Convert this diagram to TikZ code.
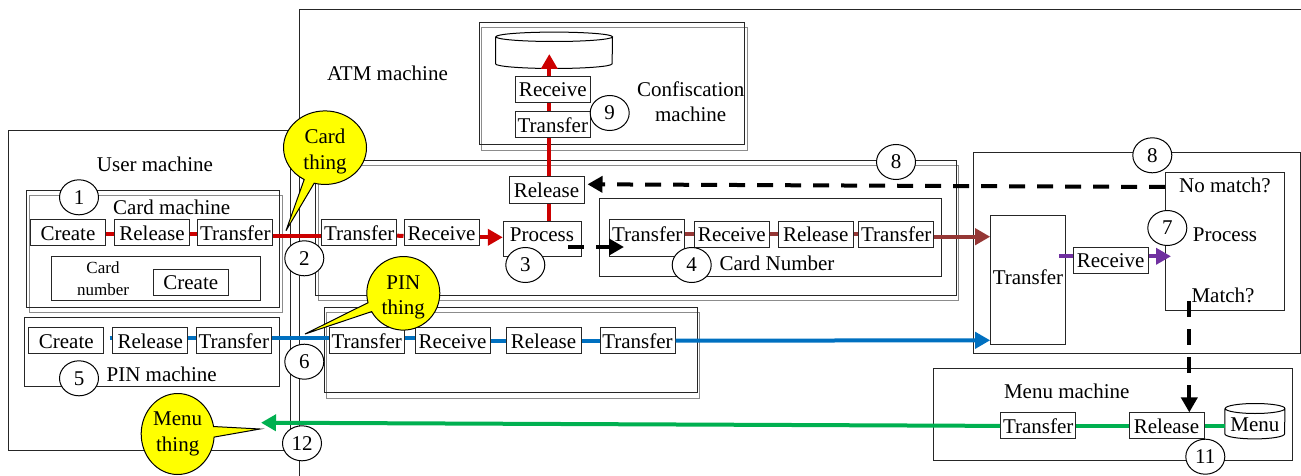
\documentclass[tikz,border=0pt]{standalone}
\usepackage{fontspec}
\setmainfont{Liberation Serif}
\usetikzlibrary{arrows.meta,shapes.geometric,shapes.callouts}
\definecolor{redflow}{RGB}{204,0,0}
\definecolor{brownflow}{RGB}{149,55,53}
\definecolor{blueflow}{RGB}{0,112,192}
\definecolor{purpleflow}{RGB}{112,48,160}
\definecolor{greenflow}{RGB}{0,176,80}
\definecolor{thingyellow}{RGB}{255,255,0}
\tikzset{
  frame/.style={draw=black!85, line width=1pt, rectangle, inner sep=0pt},
  ghost/.style={draw=black!45, line width=1pt, rectangle, inner sep=0pt},
  stepbox/.style={draw=black!85, line width=1pt, fill=white, rectangle, inner sep=0pt, minimum width=75pt, minimum height=26pt, text height=18pt, text depth=3.4pt},
  storearea/.style={rectangle, inner sep=0pt},
  storeline/.style={draw=black, line width=1pt},
  badge/.style={draw=black, line width=1pt, fill=white, ellipse, inner sep=0pt, minimum width=39pt, minimum height=35pt},
  bubble/.style={draw=black, line width=1pt, fill=thingyellow, ellipse callout, align=center, inner sep=0pt, font=\fontsize{21}{25.5}\selectfont},
  flow/.style={line width=4pt},
  bigarrow/.style={-{Triangle[length=15pt,width=16pt]}},
  dashflow/.style={line width=4pt, black, dash pattern=on 16pt off 12pt}
}
\newcommand{\storeshape}[3]{%
  \draw[storeline] (#1.north west) -- (#1.south west)
    arc[start angle=180, end angle=360, x radius=#2pt, y radius=#3pt] -- (#1.north east)
    arc[start angle=0, end angle=360, x radius=#2pt, y radius=#3pt];
}
\begin{document}
\begin{tikzpicture}[x=1pt, y=-1pt, every node/.append style={font=\fontsize{21}{25}\selectfont}]
  \useasboundingbox (0,0) rectangle (1301,476);

  % machines
  \node (usermachine) [frame, minimum width=282pt, minimum height=319pt] at (149,290.5) {};
  \coordinate (atmright) at (1301,10);
  \coordinate (atmcorner) at (299.7,10);
  \coordinate (atmbottom) at (299.7,476);
  \draw[black!85, line width=1pt] (atmright) -- (atmcorner) -- (atmbottom);

  \node [ghost, minimum width=252.7pt, minimum height=116.3pt] at (155.65,253.85) {};
  \node (cardmachine) [frame, minimum width=253pt, minimum height=117.7pt] at (153.2,248.85) {};
  \node (cardnumber) [frame, minimum width=209pt, minimum height=43.6pt] at (155.8,278.5) {};
  \node (pinmachine) [frame, minimum width=255pt, minimum height=69.4pt] at (152.2,352) {};

  \node [ghost, minimum width=640.4pt, minimum height=135pt] at (638.5,233.2) {};
  \node (cardgroup) [frame, minimum width=640.3pt, minimum height=134.3pt] at (635.85,227.85) {};
  \node [ghost, minimum width=373pt, minimum height=85.7pt] at (513.2,355.15) {};
  \node (pingroup) [frame, minimum width=373pt, minimum height=85.4pt] at (510.5,350) {};
  \node (numbergroup) [frame, minimum width=341.7pt, minimum height=77.7pt] at (770.8,237.2) {};

  \node [ghost, minimum width=266pt, minimum height=122.3pt] at (614.3,89.15) {};
  \node (confmachine) [frame, minimum width=265.7pt, minimum height=122.3pt] at (611.85,83.85) {};
  \node (bankmachine) [frame, minimum width=327pt, minimum height=201.4pt] at (1136.9,253) {};
  \node (menumachine) [frame, minimum width=359pt, minimum height=92.3pt] at (1112.8,414.2) {};

  % machine names
  \node (usertext) at (155,164) {User machine};
  \node (cardtext) at (171.7,207.2) {Card machine};
  \node (pintext) at (161.7,374.5) {PIN machine};
  \node (atmtext) at (387.5,73) {ATM machine};
  \node (conftext) [align=center] at (690.7,102) {Confiscation\\machine};
  \node (numbertext) at (777,263.5) {Card Number};
  \node (menutext) at (1066.7,391.5) {Menu machine};
  \node (cardnumtext) [align=center, font=\fontsize{17}{21.5}\selectfont] at (103,278.5) {Card\\number};

  % user side
  \node (cardcreate) [stepbox] at (68,232.7) {Create};
  \node (cardrelease) [stepbox] at (152,232.7) {Release};
  \node (cardtransfer) [stepbox] at (235.3,232.7) {Transfer};
  \node (numcreate) [stepbox] at (190.8,282.3) {Create};
  \node (pincreate) [stepbox] at (66.3,340.7) {Create};
  \node (pinrelease) [stepbox] at (150.2,340.7) {Release};
  \node (pintransfer) [stepbox] at (233.8,340.7) {Transfer};

  % ATM side
  \node (atmtransfer) [stepbox] at (359.2,232.7) {Transfer};
  \node (atmreceive) [stepbox] at (441.5,232.9) {Receive};
  \node (atmprocess) [stepbox, minimum width=78pt, minimum height=35.4pt, text height=0pt, text depth=0pt] at (542.3,239) {};
  \node (processtext) at (542,235) {Process};
  \node (atmrelease) [stepbox, minimum height=26.6pt] at (546.5,190) {Release};
  \node (numtransfer) [stepbox, minimum height=36.7pt, text height=0pt, text depth=0pt] at (647.2,238.3) {};
  \node (numtransfertext) at (647.2,234) {Transfer};
  \node (numreceive) [stepbox] at (731.8,234) {Receive};
  \node (numrelease) [stepbox] at (815.7,234) {Release};
  \node (numsend) [stepbox] at (896.2,234) {Transfer};
  \node (atmpintransfer) [stepbox] at (366.7,340.7) {Transfer};
  \node (atmpinreceive) [stepbox] at (452.5,340.7) {Receive};
  \node (atmpinrelease) [stepbox] at (543.5,340.7) {Release};
  \node (atmpinsend) [stepbox] at (637.5,340.7) {Transfer};

  % confiscation
  \node (confstore) [storearea, minimum width=116.6pt, minimum height=26.6pt] at (554,50.3) {};
  \storeshape{confstore}{58.3}{4.7}
  \node (confreceive) [stepbox] at (552.8,89.2) {Receive};
  \node (conftransfer) [stepbox] at (552.8,124.7) {Transfer};

  % bank side
  \node (banktransfer) [stepbox, minimum width=74.6pt, minimum height=129pt, text height=14pt, text depth=5pt] at (1028,279.8) {Transfer};
  \node (bankreceive) [stepbox] at (1110.7,260.2) {Receive};
  \node (bankprocess) [stepbox, minimum width=119pt, minimum height=137.7pt, text height=0pt, text depth=0pt] at (1225.2,241.2) {};
  \node (nomatchtext) at (1225,185) {No match?};
  \node (processtwotext) at (1225,235) {Process};
  \node (matchtext) at (1223,295.7) {Match?};

  % menu
  \node (menutransfer) [stepbox] at (1038.2,425.9) {Transfer};
  \node (menurelease) [stepbox] at (1166.5,425.9) {Release};
  \node (menustore) [storearea, minimum width=59.7pt, minimum height=25pt] at (1254.9,421.2) {};
  \storeshape{menustore}{29.85}{5}
  \node (menustoretext) at (1254.9,425) {Menu};

  % free ends
  \coordinate (pinstub) at (109.5,337.7);
  \coordinate (storetip) at (549.3,54);
  \coordinate (purplestart) at (1059,256.3);
  \coordinate (purpletip) at (1171,256.3);
  \coordinate (dashstart) at (568,247);
  \coordinate (dashtip) at (624,247);
  \coordinate (matchstart) at (1189.3,301);
  \coordinate (menutip) at (261,422.7);

  % card flow
  \draw[flow, redflow] ([yshift=-1.3pt]cardcreate.east) -- ([yshift=-1.3pt]cardrelease.west);
  \draw[flow, redflow] ([yshift=-1.3pt]cardrelease.east) -- ([yshift=-1.3pt]cardtransfer.west);
  \draw[flow, redflow] ([yshift=-3pt]cardtransfer.east) -- ([yshift=-3pt]atmtransfer.west);
  \draw[flow, redflow] ([yshift=-3pt]atmtransfer.east) -- ([yshift=-3pt]atmreceive.west);
  \draw[flow, redflow, bigarrow] ([yshift=-4.4pt]atmreceive.east) -- ([yshift=-4.4pt]atmreceive.east -| atmprocess.west);
  \draw[flow, redflow] (atmprocess.north -| storetip) -- (atmrelease.south -| storetip);
  \draw[flow, redflow] (atmrelease.north -| storetip) -- (conftransfer.south -| storetip);
  \draw[flow, redflow] (conftransfer.north -| storetip) -- (confreceive.south -| storetip);
  \draw[flow, redflow, bigarrow] (confreceive.north -| storetip) -- (storetip);

  % number flow
  \draw[flow, brownflow] (numtransfer.east |- numreceive.west) -- (numreceive.west);
  \draw[flow, brownflow] (numreceive.east) -- (numrelease.west);
  \draw[flow, brownflow] (numrelease.east) -- (numsend.west);
  \draw[flow, brownflow, bigarrow] ([yshift=-2.7pt]numsend.east) -- ([yshift=-2.7pt]numsend.east -| banktransfer.west);

  % pin flow
  \draw[flow, blueflow] (pinstub) -- (pinstub -| pinrelease.west);
  \draw[flow, blueflow] ([yshift=3pt]pinrelease.east) -- ([yshift=3pt]pintransfer.west);
  \draw[flow, blueflow] ([yshift=3pt]pintransfer.east) -- ([yshift=3pt]atmpintransfer.west);
  \draw[flow, blueflow] ([yshift=3pt]atmpintransfer.east) -- ([yshift=3pt]atmpinreceive.west);
  \draw[flow, blueflow] (atmpinreceive.east) -- (atmpinrelease.west);
  \draw[flow, blueflow] (atmpinrelease.east) -- (atmpinsend.west);
  \draw[flow, blueflow, bigarrow] (atmpinsend.east) -- (banktransfer.west |- 0,340.3);

  % compare flow
  \draw[flow, purpleflow] (purplestart) -- (purplestart -| bankreceive.west);
  \draw[flow, purpleflow, bigarrow] (purplestart -| bankreceive.east) -- (purpletip);

  % menu flow
  \draw[flow, greenflow] (menustore.west |- menurelease.east) -- (menurelease.east);
  \draw[flow, greenflow] (menurelease.west) -- (menutransfer.east);
  \draw[flow, greenflow, bigarrow] (menutransfer.west) -- (menutip);

  % decisions
  \draw[dashflow, bigarrow] (dashstart) -- (dashtip);
  \draw[dashflow, bigarrow] (bankprocess.west |- 0,187) -- ([xshift=3pt]atmrelease.east |- 0,184.3);
  \draw[dashflow, bigarrow] (matchstart) -- (matchstart |- menurelease.north);

  % things
  \node (cardthing) [bubble, minimum width=83pt, minimum height=73pt, callout absolute pointer={(286,230.7)}] at (325,147.7) {\rule{0pt}{22pt}Card\\thing};
  \node (pinthing) [bubble, minimum width=73pt, minimum height=70pt, callout absolute pointer={(305,334)}] at (403.3,293.3) {\rule{0pt}{22pt}PIN\\thing};
  \node (menuthing) [bubble, minimum width=73pt, minimum height=81pt, callout absolute pointer={(260,429)}] at (177.7,434) {Menu\\thing};

  % numbers
  \node (one) [badge] at (79,197.3) {1};
  \node (two) [badge] at (304.3,258.3) {2};
  \node (three) [badge] at (525.3,265) {3};
  \node (four) [badge] at (691.7,265) {4};
  \node (five) [badge] at (79,378.3) {5};
  \node (six) [badge] at (304.3,361.7) {6};
  \node (seven) [badge] at (1167.3,228) {7};
  \node (eight) [badge] at (896,162) {8};
  \node (eighttwo) [badge] at (1152.3,155.3) {8};
  \node (nine) [badge] at (609.7,113) {9};
  \node (eleven) [badge] at (1205.3,456.7) {11};
  \node (twelve) [badge] at (302,443.3) {12};
\end{tikzpicture}
\end{document}
